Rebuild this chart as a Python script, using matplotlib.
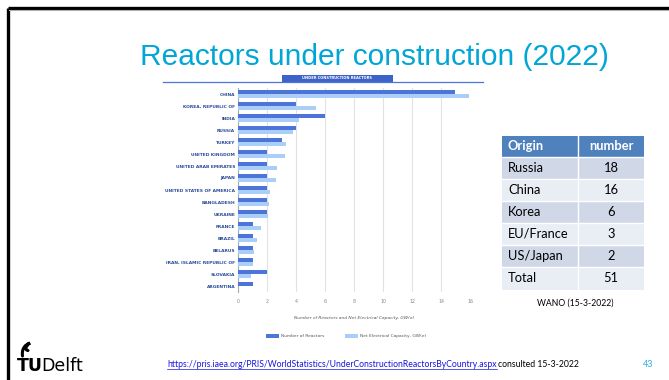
import numpy as np
import matplotlib
matplotlib.use("Agg")
import matplotlib.pyplot as plt
from matplotlib.patches import Rectangle, PathPatch
from matplotlib.path import Path

# reactors under construction per country (IAEA PRIS, March 2022)
countries = ["CHINA", "KOREA, REPUBLIC OF", "INDIA", "RUSSIA", "TURKEY",
             "UNITED KINGDOM", "UNITED ARAB EMIRATES", "JAPAN",
             "UNITED STATES OF AMERICA", "BANGLADESH", "UKRAINE", "FRANCE",
             "BRAZIL", "BELARUS", "IRAN, ISLAMIC REPUBLIC OF", "SLOVAKIA",
             "ARGENTINA"]
n_reactors = [15, 4, 6, 4, 3, 2, 2, 2, 2, 2, 2, 1, 1, 1, 1, 2, 1]
capacity_gw = [15.96, 5.36, 4.19, 3.77, 3.33, 3.26, 2.67, 2.65, 2.23, 2.14,
               2.05, 1.61, 1.33, 1.10, 1.01, 0.88, 0.03]
x_ticks = [0, 2, 4, 6, 8, 10, 12, 14, 16]

# vendor table (WANO)
origins = ["Russia", "China", "Korea", "EU/France", "US/Japan", "Total"]
origin_counts = [18, 16, 6, 3, 2, 51]

W, H = 669, 380
fig = plt.figure(figsize=(W / 100, H / 100), dpi=100)
fig.patch.set_facecolor("white")

# overlay in pixel coordinates for the slide decorations
ov = fig.add_axes([0, 0, 1, 1])
ov.set_xlim(0, W)
ov.set_ylim(H, 0)
ov.axis("off")

# slide frame
ov.plot([7.5, W], [7.5, 7.5], color="black", lw=2.4, solid_capstyle="butt")
ov.plot([7.5, 7.5], [7.5, H], color="black", lw=2.4, solid_capstyle="butt")
ov.plot([9, W], [10, 10], color="#b0b0b0", lw=0.8)

ov.text(374, 57, "Reactors under construction (2022)", color="#00a6d6",
        fontsize=21.5, family="Liberation Sans", ha="center", va="center")

# chart header strip
dark = "#4d74d8"
light = "#a9cff9"
ov.add_patch(Rectangle((282, 75), 111, 6.5, color="#3c63c8", lw=0))
ov.text(337.5, 78.3, "UNDER CONSTRUCTION REACTORS", color="white",
        fontsize=2.6, weight="bold", ha="center", va="center")
ov.plot([163, 483], [82, 82], color=dark, lw=0.9)

# bar chart
ax = fig.add_axes([238 / W, 1 - 292 / H, 232 / W, 204 / H])
y = np.arange(len(countries))
bh = 0.29
b1 = ax.barh(y - 0.15, n_reactors, height=bh, color=dark, label="Number of Reactors", zorder=3)
b2 = ax.barh(y + 0.15, capacity_gw, height=bh, color=light,
             label="Net Electrical Capacity, GW(e)", zorder=3)
ax.set_xlim(0, 16)
ax.set_ylim(len(countries) - 0.5, -0.5)
ax.set_xticks(x_ticks)
ax.set_yticks(y)
ax.set_yticklabels(countries, fontsize=3.2, color="#2a4a9a", weight="bold")
ax.tick_params(axis="x", labelsize=3.4, colors="#888888", length=0, pad=5)
ax.tick_params(axis="y", length=0, pad=2)
ax.xaxis.grid(True, color="#e2e2e2", lw=0.8, zorder=0)
for s in ["top", "right", "bottom"]:
    ax.spines[s].set_visible(False)
ax.spines["left"].set_color("#aaaaaa")
ax.spines["left"].set_linewidth(0.8)
ax.set_facecolor("none")

ov.text(354, 318, "Number of Reactors and Net Electrical Capacity, GW(e)",
        fontsize=3.2, style="italic", color="#555555", ha="center", va="center")
fig.legend(handles=[b1, b2], loc="center", bbox_to_anchor=(346 / W, 1 - 336 / H),
           ncol=2, fontsize=3.2, frameon=False, handlelength=3.0, handleheight=0.9,
           columnspacing=4.5, handletextpad=0.5, labelcolor="#555555")

# vendor table
col_x = [502, 578, 644]
row_y = [136, 157, 179, 201, 223, 245, 267, 290]
ov.add_patch(Rectangle((col_x[0], row_y[0]), col_x[2] - col_x[0], row_y[1] - row_y[0],
                       color="#4f81bd", lw=0))
ov.text(508, (row_y[0] + row_y[1]) / 2, "Origin", color="white", weight="bold",
        fontsize=9.3, family="Lato", va="center")
ov.text(611, (row_y[0] + row_y[1]) / 2, "number", color="white", weight="bold",
        fontsize=9.3, family="Lato", va="center", ha="center")
for i, (org, cnt) in enumerate(zip(origins, origin_counts)):
    y0, y1 = row_y[i + 1], row_y[i + 2]
    fill = "#d0d8e8" if i % 2 == 0 else "#e9edf4"
    ov.add_patch(Rectangle((col_x[0], y0), col_x[2] - col_x[0], y1 - y0, color=fill, lw=0))
    ov.text(508, (y0 + y1) / 2, org, fontsize=9.3, family="Lato", va="center")
    ov.text(611, (y0 + y1) / 2, str(cnt), fontsize=9.3, family="Lato", va="center", ha="center")
for yy in row_y[1:-1]:
    ov.plot([col_x[0], col_x[2]], [yy, yy], color="white", lw=1)
ov.plot([col_x[1], col_x[1]], [row_y[0], row_y[-1]], color="white", lw=1)
ov.text(575, 303, "WANO (15-3-2022)", fontsize=6.2, family="Lato", ha="center", va="center")

# TU Delft logo
ov.text(17, 371, "TU", fontsize=12.5, weight="bold", family="DejaVu Sans", va="baseline")
ov.text(41.5, 371, "Delft", fontsize=12.5, family="DejaVu Sans", va="baseline")
flame = Path([(22.5, 356), (21.5, 349), (25, 344.5), (30, 343),
              (25.5, 346), (24.5, 350), (28, 350.5)],
             [Path.MOVETO, Path.CURVE4, Path.CURVE4, Path.CURVE4,
              Path.CURVE4, Path.CURVE4, Path.CURVE4])
ov.add_patch(PathPatch(flame, fill=False, lw=2.2, color="black", capstyle="round"))

# source link
link = ov.text(167, 367, "https://pris.iaea.org/PRIS/WorldStatistics/UnderConstructionReactorsByCountry.aspx",
               fontsize=6.25, family="Lato", color="#1515e0", va="baseline")
fig.canvas.draw()
bb = link.get_window_extent().transformed(ov.transData.inverted())
ov.plot([bb.x0, bb.x1], [368.5, 368.5], color="#1515e0", lw=0.5)
ov.text(bb.x1 + 2, 367, "consulted 15-3-2022", fontsize=6.25, family="Lato", va="baseline")
ov.text(648, 367, "43", fontsize=6.5, family="Lato", color="#2cb0e0", ha="center", va="baseline")

fig.savefig("out.png", dpi=100)
